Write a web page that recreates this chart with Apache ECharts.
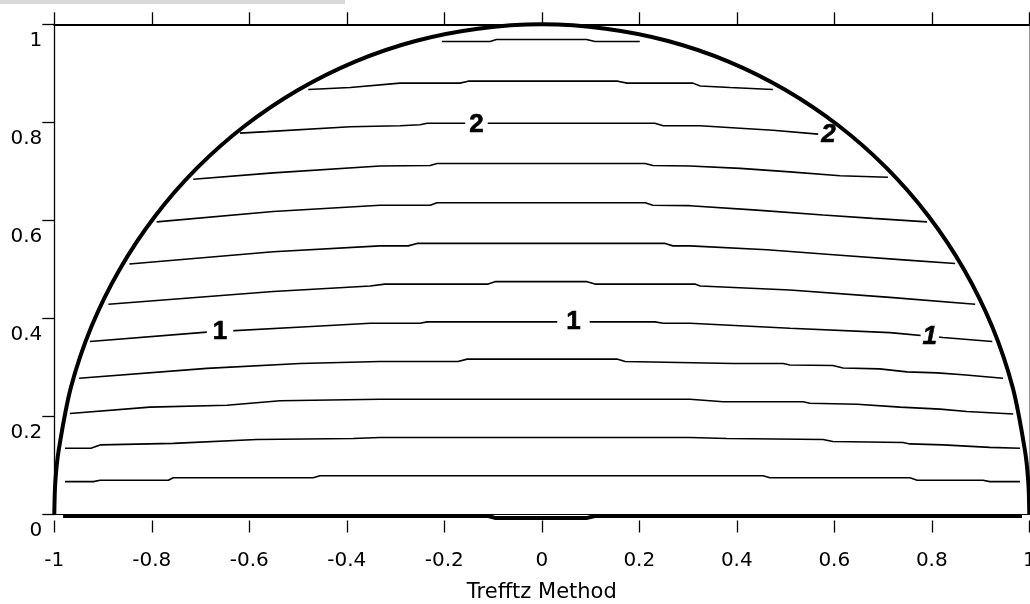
<!DOCTYPE html>
<html>
<head>
<meta charset="utf-8" />
<title>Trefftz Method</title>
<script src="https://cdn.jsdelivr.net/npm/echarts@6/dist/echarts.min.js"></script>
<style>
	html, body { margin: 0; padding: 0; background: #fff; }
	#main { width: 1030px; height: 604px; }
</style>
</head>
<body>
<div id="main"></div>
<script type="text/javascript">
// contour lines, bottom to top, as [x, y]
var level1 = [[-0.978,0.067],[-0.920,0.067],[-0.906,0.070],[-0.766,0.070],[-0.756,0.075],[-0.469,0.075],[-0.455,0.079],[0.454,0.079],[0.468,0.075],[0.755,0.075],[0.770,0.070],[0.905,0.070],[0.919,0.067],[0.981,0.067]];
var level2 = [[-0.978,0.135],[-0.925,0.135],[-0.906,0.142],[-0.756,0.145],[-0.585,0.153],[-0.387,0.155],[-0.332,0.157],[0.304,0.157],[0.380,0.155],[0.577,0.153],[0.597,0.149],[0.741,0.147],[0.755,0.144],[0.823,0.142],[0.919,0.137],[0.981,0.135]];
var level3 = [[-0.968,0.206],[-0.804,0.219],[-0.646,0.223],[-0.537,0.232],[-0.332,0.235],[0.304,0.235],[0.372,0.230],[0.536,0.230],[0.550,0.227],[0.647,0.225],[0.735,0.219],[0.817,0.215],[0.872,0.210],[0.967,0.205]];
var level4 = [[-0.949,0.278],[-0.687,0.298],[-0.496,0.308],[-0.332,0.312],[-0.172,0.312],[-0.153,0.317],[0.154,0.317],[0.171,0.312],[0.392,0.308],[0.495,0.308],[0.509,0.305],[0.597,0.304],[0.618,0.299],[0.693,0.297],[0.749,0.291],[0.811,0.289],[0.864,0.285],[0.946,0.278]];
var level5 = [[-0.927,0.353],[-0.687,0.372],[-0.482,0.383],[-0.352,0.390],[-0.250,0.390],[-0.235,0.393],[0.232,0.393],[0.249,0.390],[0.304,0.390],[0.509,0.380],[0.714,0.371],[0.823,0.361],[0.924,0.353]];
var level6 = [[-0.889,0.429],[-0.551,0.455],[-0.352,0.466],[-0.322,0.470],[-0.110,0.470],[-0.096,0.475],[0.093,0.475],[0.109,0.470],[0.314,0.470],[0.325,0.466],[0.509,0.458],[0.714,0.443],[0.889,0.429]];
var level7 = [[-0.846,0.511],[-0.551,0.536],[-0.332,0.548],[-0.274,0.548],[-0.256,0.553],[0.253,0.553],[0.269,0.548],[0.304,0.548],[0.462,0.540],[0.612,0.529],[0.749,0.519],[0.848,0.512]];
var level8 = [[-0.790,0.597],[-0.551,0.618],[-0.332,0.631],[-0.229,0.631],[-0.215,0.636],[0.212,0.636],[0.228,0.631],[0.304,0.630],[0.441,0.621],[0.577,0.611],[0.679,0.604],[0.790,0.597]];
var level9 = [[-0.715,0.684],[-0.551,0.697],[-0.332,0.711],[-0.229,0.712],[-0.215,0.716],[0.212,0.716],[0.228,0.712],[0.304,0.711],[0.407,0.706],[0.509,0.699],[0.612,0.691],[0.710,0.688]];
var level10 = [[-0.619,0.778],[-0.564,0.781],[-0.393,0.791],[-0.291,0.793],[-0.250,0.795],[-0.235,0.798],[0.232,0.798],[0.249,0.793],[0.325,0.793],[0.407,0.788],[0.474,0.784],[0.567,0.776]];
var level11 = [[-0.479,0.867],[-0.393,0.871],[-0.291,0.880],[-0.168,0.880],[-0.151,0.884],[0.156,0.884],[0.175,0.880],[0.310,0.880],[0.325,0.874],[0.386,0.871],[0.474,0.867]];
var level12 = [[-0.205,0.965],[-0.106,0.965],[-0.093,0.969],[0.092,0.969],[0.109,0.965],[0.201,0.965]];

// thick outline: the arc and the base
var arc = [[-1,0],[-0.998,0.065],[-0.991,0.131],[-0.966,0.259],[-0.924,0.383],[-0.866,0.5],[-0.793,0.609],[-0.707,0.707],[-0.609,0.793],[-0.5,0.866],[-0.383,0.924],[-0.259,0.966],[-0.131,0.991],[0,1],[0.131,0.991],[0.259,0.966],[0.383,0.924],[0.5,0.866],[0.609,0.793],[0.707,0.707],[0.793,0.609],[0.866,0.5],[0.924,0.383],[0.966,0.259],[0.991,0.131],[0.998,0.065],[1,0]];
var base = [[-0.982,-0.003],[-0.110,-0.003],[-0.096,-0.007],[0.093,-0.007],[0.109,-0.003],[0.985,-0.003]];

// contour labels
var labelX = [-0.660, 0.065, 0.796, -0.134, 0.588];
var labelY = [0.373, 0.393, 0.363, 0.795, 0.774];
var labelText = ['1', '1', '1', '2', '2'];

var levels = [level1, level2, level3, level4, level5, level6, level7, level8, level9, level10, level11, level12];
var font = 'DejaVu Sans';

var series = [];
levels.forEach(function(d) {
	series.push({
		type: 'line', data: d, symbol: 'none', clip: false, silent: true,
		lineStyle: { color: '#000', width: 1.6 }, z: 2
	});
});
series.push({
	type: 'line', data: arc, symbol: 'none', smooth: 0.3, clip: false, silent: true,
	lineStyle: { color: '#000', width: 4 }, z: 3
});
series.push({
	type: 'line', data: base, symbol: 'none', clip: false, silent: true,
	lineStyle: { color: '#000', width: 4 }, z: 3
});

var pads = [[0, 6], [0, 9], [0, 2], [0, 4], [0, 0]];
var labelData = [];
for (var i = 0; i < labelText.length; i++) {
	labelData.push({
		value: [labelX[i], labelY[i]],
		label: {
			formatter: labelText[i],
			fontStyle: i == 2 || i == 4 ? 'italic' : 'normal',
			backgroundColor: i == 4 ? 'transparent' : '#fff',
			padding: pads[i]
		}
	});
}
series.push({
	type: 'scatter', data: labelData, symbolSize: 0, clip: false, silent: true,
	itemStyle: { color: '#000', opacity: 1 }, z: 5,
	label: {
		show: true, position: 'inside', color: '#000', opacity: 1,
		textBorderWidth: 0.6, textBorderColor: '#000',
		fontFamily: 'Liberation Sans', fontWeight: 'bold', fontSize: 26
	}
});

var chart = echarts.init(document.getElementById('main'));
var option = {
	animation: false,
	backgroundColor: '#fff',
	grid: { left: 54.3, right: 0.7, top: 24.3, bottom: 89.5, containLabel: false, outerBoundsMode: 'none' },
	graphic: [{
		type: 'rect', left: 0, top: 0, silent: true,
		shape: { width: 345, height: 4 }, style: { fill: '#d9d9d9' }
	}],
	xAxis: [{
			type: 'value', min: -1, max: 1, interval: 0.2, position: 'bottom',
			axisLine: { onZero: false, lineStyle: { color: '#000', width: 1 } },
			axisTick: { show: false },
			splitLine: { show: false },
			axisLabel: { margin: 36, color: '#000', fontSize: 20, fontFamily: font },
			name: 'Trefftz Method', nameLocation: 'middle', nameGap: 68,
			nameTextStyle: { color: '#000', fontSize: 21, fontFamily: font }
		},
		{
			type: 'value', min: -1, max: 1, interval: 0.2, position: 'bottom', offset: 6,
			axisLine: { show: false, onZero: false },
			axisTick: { show: true, length: 12, lineStyle: { color: '#000', width: 1.3 } },
			axisLabel: { show: false },
			splitLine: { show: false }
		},
		{
			type: 'value', min: -1, max: 1, interval: 0.2, position: 'top',
			axisLine: { onZero: false, lineStyle: { color: '#000', width: 2 } },
			axisTick: { show: true, length: 12, lineStyle: { color: '#000', width: 1.3 } },
			axisLabel: { show: false },
			splitLine: { show: false }
		}
	],
	yAxis: [{
			type: 'value', min: 0, max: 1, interval: 0.2, position: 'left',
			axisLine: { show: true, onZero: false, lineStyle: { color: '#000', width: 1.3 } },
			axisTick: { show: true, length: 12, lineStyle: { color: '#000', width: 1.3 } },
			axisLabel: { margin: 12, color: '#000', fontSize: 20, fontFamily: font, verticalAlign: 'top', padding: [6, 0, 0, 0] },
			splitLine: { show: false }
		},
		{
			type: 'value', min: 0, max: 1, position: 'right',
			axisLine: { show: true, onZero: false, lineStyle: { color: '#999', width: 1 } },
			axisTick: { show: false },
			axisLabel: { show: false },
			splitLine: { show: false }
		}
	],
	series: series
};
chart.setOption(option);
</script>
</body>
</html>
